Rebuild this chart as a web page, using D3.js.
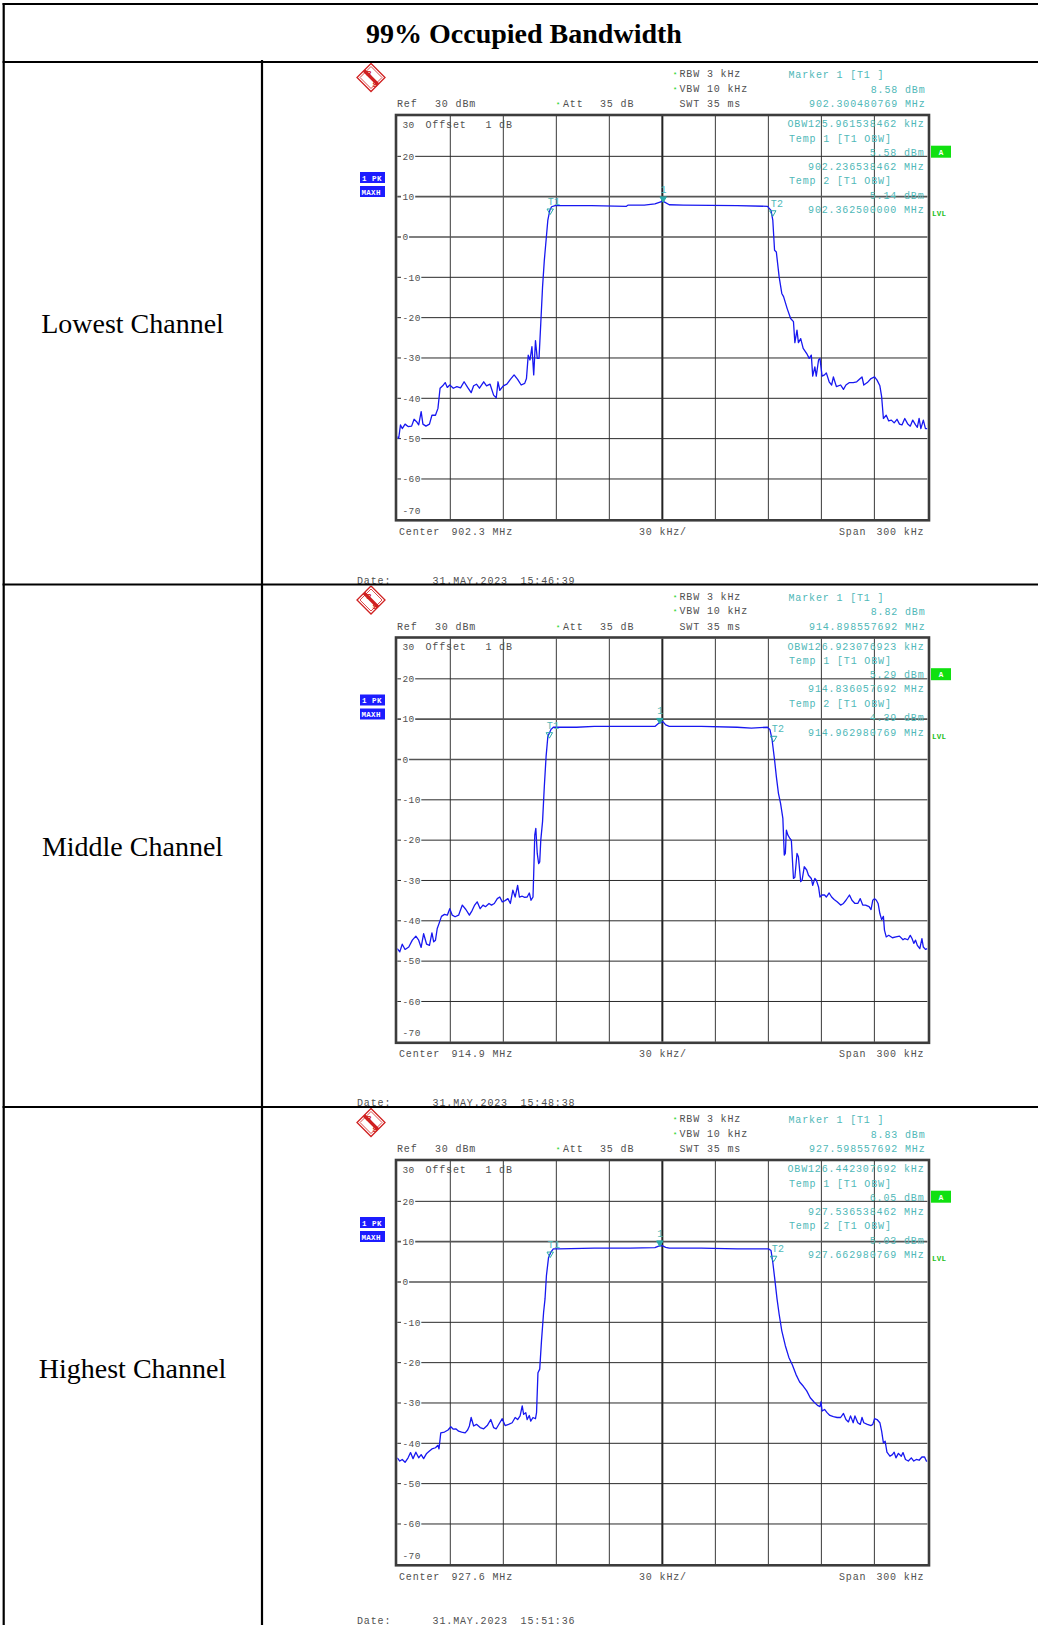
<!DOCTYPE html>
<html>
<head>
<meta charset="utf-8">
<script src="https://cdn.jsdelivr.net/npm/d3@7"></script>
<style>
  body { margin: 0; background: #fff; }
  svg { display: block; }
  text { white-space: pre; }
</style>
</head>
<body>
<svg id="chart" width="1038" height="1625"></svg>
<script>
// values
var channelNames = ["Lowest Channel", "Middle Channel", "Highest Channel"];
var centerMHz = [902.3, 914.9, 927.6];
var marker1Level = ["8.58", "8.82", "8.83"];
var marker1Freq = ["902.300480769", "914.898557692", "927.598557692"];
var obwKHz = ["125.961538462", "126.923076923", "126.442307692"];
var temp1Level = ["5.58", "5.29", "6.05"];
var temp1Freq = ["902.236538462", "914.836057692", "927.536538462"];
var temp2Level = ["5.14", "4.39", "5.03"];
var temp2Freq = ["902.362500000", "914.962980769", "927.662980769"];
var dateTimes = ["15:46:39", "15:48:38", "15:51:36"];
var levelTicks = [20, 10, 0, -10, -20, -30, -40, -50, -60];
var freqTicks = [-120, -90, -60, -30, 0, 30, 60, 90, 120];

// traces: [offset from center in kHz, level in dBm]
var lowTrace = [[-150,-49.5],[-149.2,-49.9],[-148.2,-46.6],[-147.2,-47.5],[-145.6,-46.4],[-143.9,-47.0],[-141.9,-46.9],[-140.5,-45.2],[-139.1,-45.8],[-137.9,-46.6],[-136.5,-43.3],[-135.5,-46.4],[-133.8,-46.9],[-131.8,-46.4],[-130.4,-44.2],[-128.4,-44.2],[-127.0,-42.5],[-125.8,-37.5],[-124.3,-36.9],[-122.9,-36.1],[-121.7,-37.3],[-120.3,-36.7],[-118.3,-37.5],[-116.3,-37.1],[-114.2,-37.4],[-112.2,-35.9],[-110.2,-37.3],[-108.2,-38.6],[-106.8,-36.9],[-105.2,-36.5],[-103.5,-37.5],[-101.1,-35.9],[-99.5,-36.9],[-97.5,-36.5],[-95.5,-39.2],[-94.0,-39.9],[-93.0,-35.9],[-92.0,-38.0],[-90.0,-36.9],[-88.0,-36.5],[-86.0,-35.3],[-83.9,-34.2],[-81.9,-35.3],[-79.9,-36.7],[-77.9,-36.3],[-76.9,-35.1],[-75.9,-29.3],[-74.9,-30.5],[-73.8,-27.2],[-72.8,-34.2],[-71.8,-25.7],[-70.8,-30.1],[-69.8,-30.1],[-68.8,-21.4],[-67.8,-12.4],[-66.8,-5.8],[-65.8,-0.8],[-64.8,4.2],[-63.7,6.6],[-62.7,7.5],[-60.7,7.8],[-40,7.8],[-20.3,7.6],[-19.5,7.9],[-10.2,7.9],[-4.2,8.2],[0.3,8.9],[3.9,8.0],[12.0,7.9],[42.3,7.8],[59.5,7.6],[61.5,6.6],[62.5,4.2],[63.5,-3.3],[64.5,-3.7],[66.1,-9.9],[67.6,-14.0],[68.6,-14.8],[70.6,-17.7],[72.6,-20.2],[74.2,-21.0],[75.0,-26.2],[76.2,-23.1],[77.0,-26.2],[78.3,-25.2],[79.7,-27.6],[81.7,-28.9],[83.1,-30.1],[84.3,-29.3],[85.1,-34.5],[86.3,-32.2],[87.1,-34.5],[88.4,-30.5],[89.2,-30.1],[90.4,-34.5],[91.8,-34.2],[92.8,-33.7],[94.4,-35.9],[95.8,-36.7],[96.8,-34.7],[98.5,-37.1],[100.9,-36.7],[102.5,-37.8],[103.9,-36.7],[105.9,-36.1],[108.0,-36.1],[110.0,-35.9],[112.0,-35.1],[113.0,-34.7],[114.0,-36.7],[116.0,-36.1],[118.1,-35.1],[120.1,-34.7],[121.5,-35.5],[123.1,-36.9],[124.1,-39.6],[125.1,-45.0],[126.7,-44.2],[128.1,-45.6],[129.6,-45.4],[131.2,-46.1],[132.8,-45.2],[134.2,-46.4],[135.6,-46.6],[137.2,-45.0],[138.9,-46.4],[140.3,-46.9],[141.7,-45.4],[143.3,-46.6],[144.3,-47.2],[145.3,-45.0],[146.3,-47.5],[147.7,-45.4],[148.9,-47.5],[150,-47.5]];

var midTrace = [[-150,-46.9],[-148.6,-47.7],[-147.2,-45.8],[-145.6,-47.1],[-143.5,-46.5],[-141.5,-44.8],[-139.5,-43.8],[-137.9,-44.8],[-136.5,-46.6],[-135.1,-43.2],[-133.4,-45.8],[-131.8,-46.1],[-130.4,-43.0],[-129.4,-45.2],[-128.4,-44.8],[-127.4,-41.9],[-126.4,-40.7],[-125.0,-38.9],[-123.3,-38.4],[-121.7,-38.6],[-120.3,-37.0],[-118.9,-38.6],[-117.3,-39.0],[-115.3,-38.6],[-113.2,-36.1],[-111.2,-37.2],[-109.2,-38.6],[-107.6,-37.4],[-106.2,-36.1],[-104.8,-35.3],[-103.1,-37.0],[-101.5,-36.1],[-100.1,-36.5],[-98.1,-35.7],[-96.7,-36.1],[-95.1,-35.7],[-93.4,-34.5],[-92.0,-34.1],[-90.6,-35.3],[-89.0,-35.0],[-87.4,-34.5],[-86.0,-35.7],[-84.6,-32.4],[-83.3,-34.1],[-81.9,-31.2],[-80.9,-34.1],[-79.3,-33.9],[-77.9,-34.2],[-76.5,-34.1],[-75.3,-33.1],[-74.3,-34.9],[-73.2,-34.1],[-72.8,-28.3],[-72.2,-18.7],[-71.6,-17.1],[-70.8,-23.3],[-70.0,-25.8],[-69.4,-25.4],[-68.8,-20.0],[-67.8,-15.4],[-66.8,-6.7],[-65.8,0.7],[-64.8,5.7],[-63.1,7.4],[-61.7,8.0],[-58.7,8.0],[-48.6,8.0],[-38.5,8.2],[-18.3,8.2],[-4.2,8.2],[-2.1,9.0],[0.3,9.4],[1.9,8.6],[3.9,8.2],[22.1,8.2],[42.3,8.0],[50.4,7.8],[59.5,8.0],[60.9,7.4],[62.1,4.9],[63.5,-0.1],[64.5,-4.2],[65.7,-8.4],[66.9,-10.9],[68.2,-14.6],[69.0,-23.7],[69.6,-23.3],[70.2,-17.5],[71.0,-18.7],[72.2,-19.6],[73.0,-20.0],[74.2,-29.5],[75.0,-29.2],[76.2,-23.3],[77.0,-24.1],[78.3,-30.3],[79.1,-29.9],[80.3,-26.6],[81.7,-27.4],[82.7,-28.7],[84.3,-29.5],[85.1,-31.2],[86.3,-29.5],[87.1,-29.9],[88.4,-31.6],[89.2,-34.1],[90.4,-33.6],[91.8,-33.6],[92.8,-34.1],[94.4,-33.1],[95.8,-34.1],[97.2,-34.7],[98.9,-35.3],[100.9,-36.1],[102.5,-35.7],[103.9,-34.9],[105.9,-33.6],[107.3,-34.9],[109.0,-35.7],[110.6,-35.7],[112.0,-34.5],[113.4,-36.1],[115.0,-36.1],[117.0,-36.5],[118.1,-37.2],[119.1,-34.9],[120.1,-34.5],[121.1,-34.9],[122.1,-35.7],[123.1,-38.2],[124.1,-39.7],[125.1,-38.9],[125.7,-42.3],[126.7,-44.0],[128.1,-43.6],[130.2,-44.2],[132.2,-44.0],[134.2,-43.8],[136.2,-44.7],[137.2,-44.4],[138.9,-44.7],[140.3,-43.6],[141.3,-44.4],[142.3,-45.6],[143.3,-44.8],[144.3,-46.1],[145.7,-46.9],[146.9,-44.4],[147.7,-46.5],[148.9,-47.1],[150,-46.9]];

var highTrace = [[-150,-43.6],[-148.6,-44.4],[-147.2,-44.0],[-145.6,-44.7],[-143.9,-43.6],[-142.5,-42.3],[-141.1,-43.8],[-139.5,-42.2],[-137.9,-43.6],[-136.5,-42.8],[-135.1,-43.8],[-133.4,-42.5],[-131.8,-41.9],[-130.4,-41.4],[-128.4,-41.1],[-127.0,-40.5],[-126.4,-41.4],[-125.4,-37.4],[-123.3,-37.2],[-121.3,-36.7],[-119.7,-35.9],[-118.3,-36.5],[-116.9,-36.4],[-115.3,-37.0],[-113.6,-37.2],[-111.6,-37.4],[-110.2,-36.7],[-109.2,-35.7],[-108.2,-33.6],[-106.8,-35.7],[-105.2,-35.3],[-103.1,-36.1],[-101.1,-36.4],[-99.1,-35.6],[-97.1,-34.1],[-95.5,-36.1],[-94.0,-36.4],[-92.0,-34.9],[-90.6,-33.9],[-89.0,-35.6],[-87.0,-35.3],[-85.0,-34.9],[-83.3,-33.6],[-81.9,-34.1],[-80.5,-33.2],[-79.3,-30.7],[-78.5,-32.8],[-77.3,-32.4],[-76.5,-34.1],[-75.3,-33.1],[-74.5,-34.5],[-73.2,-33.6],[-71.8,-33.9],[-71.2,-32.4],[-70.4,-22.5],[-69.4,-21.6],[-68.4,-14.6],[-67.2,-7.5],[-66.4,-4.2],[-65.6,1.6],[-64.4,6.1],[-63.1,7.4],[-61.7,8.2],[-58.7,8.2],[-38.5,8.4],[-18.3,8.4],[-4.2,8.5],[-2.1,8.9],[-0.1,9.0],[1.9,8.6],[3.9,8.4],[22.1,8.4],[42.3,8.2],[60.1,8.2],[61.5,7.8],[62.5,4.9],[63.5,1.2],[64.9,-4.2],[66.1,-8.0],[67.6,-12.1],[69.6,-15.8],[71.6,-18.7],[73.6,-20.6],[75.6,-22.9],[77.7,-24.8],[79.7,-25.8],[81.7,-27.0],[83.7,-28.7],[85.7,-29.7],[87.8,-30.6],[89.2,-30.9],[89.8,-29.7],[90.4,-32.0],[91.8,-31.6],[93.2,-32.4],[94.8,-33.1],[96.8,-33.4],[98.9,-33.6],[100.9,-33.6],[102.5,-32.6],[103.9,-34.1],[105.3,-34.7],[106.5,-33.2],[108.0,-34.9],[109.0,-33.2],[110.6,-34.9],[112.0,-35.3],[113.0,-33.6],[114.0,-34.9],[116.0,-35.3],[118.1,-35.6],[119.1,-35.3],[120.1,-33.9],[121.5,-34.1],[123.1,-34.9],[124.1,-37.0],[125.1,-39.9],[126.1,-39.5],[127.1,-42.2],[128.8,-43.2],[130.2,-42.8],[131.2,-42.2],[132.2,-43.6],[133.6,-42.5],[135.2,-43.2],[136.2,-42.3],[137.6,-44.0],[139.2,-44.4],[140.9,-43.6],[142.3,-44.4],[143.7,-44.0],[145.3,-44.2],[146.9,-43.4],[148.4,-43.4],[149.4,-44.4],[150,-44.4]];

var traces = [lowTrace, midTrace, highTrace];

var svg = d3.select("#chart");
var defs = svg.append("defs");
var mono = "'Liberation Mono','DejaVu Sans Mono',monospace";
var serif = "'Liberation Serif','DejaVu Serif',serif";
var gray = "#505050", teal = "#4fb8b8", green = "#16d016";
var rowTops = [62, 584.5, 1107];

function txt(g, x, y, s, opt) {
  opt = opt || {};
  return g.append("text")
    .attr("x", x).attr("y", y)
    .attr("font-family", opt.family || mono)
    .attr("font-size", opt.size || 10)
    .attr("letter-spacing", opt.ls === undefined ? 0.85 : opt.ls)
    .attr("fill", opt.fill || gray)
    .attr("font-weight", opt.weight || "normal")
    .attr("text-anchor", opt.anchor || "start")
    .text(s);
}

function drawPanel(i) {
  var top = rowTops[i];
  var bottom = i < 2 ? rowTops[i + 1] : 1625;
  defs.append("clipPath").attr("id", "cell" + i)
    .append("rect").attr("x", 263).attr("y", top + 1).attr("width", 775).attr("height", bottom - top - 1);
  defs.append("clipPath").attr("id", "plot" + i)
    .append("rect").attr("x", 397.3).attr("y", top + 54).attr("width", 530.1).attr("height", 403.5);

  var g = svg.append("g").attr("clip-path", "url(#cell" + i + ")");
  var x = d3.scaleLinear().domain([-150, 150]).range([397.3, 927.4]);
  var y = d3.scaleLinear().domain([30, -70]).range([top + 54, top + 457.3]);

  // R&S logo
  var lg = g.append("g").attr("transform", "translate(371," + (top + 15.5) + ")");
  lg.append("path").attr("d", "M0,-14L14,0L0,14L-14,0Z").attr("fill", "none").attr("stroke", "#d02020").attr("stroke-width", 1.3);
  lg.append("path").attr("d", "M0,-11L11,0L0,11L-11,0Z").attr("fill", "none").attr("stroke", "#d02020").attr("stroke-width", 0.8);
  lg.append("path").attr("d", "M-7,-7L7,7").attr("stroke", "#d02020").attr("stroke-width", 3.2);
  txt(lg, -4.5, -1.5, "R", {size: 8, fill: "#d02020", ls: 0, weight: "bold"});
  txt(lg, 1.5, 9, "S", {size: 8, fill: "#d02020", ls: 0, weight: "bold"});

  // header
  txt(g, 673, top + 15, "*", {size: 7, fill: green, ls: 0});
  txt(g, 679.5, top + 15, "RBW 3 kHz");
  txt(g, 673, top + 29.5, "*", {size: 7, fill: green, ls: 0});
  txt(g, 679.5, top + 29.5, "VBW 10 kHz");
  txt(g, 397, top + 45, "Ref");
  txt(g, 435, top + 45, "30 dBm");
  txt(g, 556, top + 45, "*", {size: 7, fill: green, ls: 0});
  txt(g, 563, top + 45, "Att");
  txt(g, 600, top + 45, "35 dB");
  txt(g, 679.5, top + 45, "SWT 35 ms");
  txt(g, 788.5, top + 16, "Marker 1 [T1 ]", {fill: teal});
  txt(g, 925.5, top + 30.5, marker1Level[i] + " dBm", {fill: teal, anchor: "end"});
  txt(g, 925.5, top + 45, marker1Freq[i] + " MHz", {fill: teal, anchor: "end"});

  // trace mode boxes
  g.append("rect").attr("x", 360).attr("y", top + 110).attr("width", 25).attr("height", 11).attr("fill", "#1c1cff");
  g.append("rect").attr("x", 360).attr("y", top + 124).attr("width", 25).attr("height", 11).attr("fill", "#1c1cff");
  txt(g, 362, top + 118.5, "1 PK", {size: 7.5, fill: "#fff", ls: 0.5, weight: "bold"});
  txt(g, 361.5, top + 132.5, "MAXH", {size: 7.5, fill: "#fff", ls: 0.3, weight: "bold"});
  g.append("rect").attr("x", 931).attr("y", top + 83.7).attr("width", 20).attr("height", 12).attr("fill", "#10e010");
  txt(g, 941, top + 92.5, "A", {size: 7.5, fill: "#fff", ls: 0, weight: "bold", anchor: "middle"});
  txt(g, 932, top + 154, "LVL", {size: 7.5, fill: "#22c022", ls: 0.3, weight: "bold"});

  // grid
  g.selectAll(".vg").data(freqTicks).enter().append("line")
    .attr("x1", function (d) { return x(d); }).attr("x2", function (d) { return x(d); })
    .attr("y1", top + 54).attr("y2", top + 457.3)
    .attr("stroke", function (d) { return d === 0 ? "#222" : "#3a3a3a"; })
    .attr("stroke-width", function (d) { return d === 0 ? 2 : 1; });
  g.selectAll(".hg").data(levelTicks).enter().append("line")
    .attr("x1", 397.3).attr("x2", 927.4)
    .attr("y1", function (d) { return y(d); }).attr("y2", function (d) { return y(d); })
    .attr("stroke", function (d) { return d === 10 || d === 0 ? "#555" : "#2a2a2a"; })
    .attr("stroke-width", function (d) { return d === 10 || d === 0 ? 1.6 : 1; });

  // level labels on the grid
  levelTicks.forEach(function (v) {
    var s = String(v);
    g.append("rect").attr("x", 401).attr("y", y(v) - 5).attr("width", s.length * 6.1 + 2).attr("height", 10).attr("fill", "#fff");
    txt(g, 402.5, y(v) + 3.3, s, {size: 9.5, ls: 0.4});
  });
  txt(g, 402.5, y(30) + 11.5, "30", {size: 9.5, ls: 0.4});
  txt(g, 402.5, y(-70) - 5.5, "-70", {size: 9.5, ls: 0.4});
  txt(g, 425.5, top + 65.5, "Offset");
  txt(g, 485.4, top + 65.5, "1 dB");

  // frame
  g.append("rect").attr("x", 396).attr("y", top + 53).attr("width", 533).attr("height", 405.3)
    .attr("fill", "none").attr("stroke", "#3c3c3c").attr("stroke-width", 2.6);

  // trace
  var line = d3.line().x(function (d) { return x(d[0]); }).y(function (d) { return y(d[1]); });
  g.append("g").attr("clip-path", "url(#plot" + i + ")")
    .append("path").datum(traces[i]).attr("d", line)
    .attr("fill", "none").attr("stroke", "#1818f0").attr("stroke-width", 1.3).attr("stroke-linejoin", "round");

  // markers
  var c = centerMHz[i];
  var marks = [
    {f: (+temp1Freq[i] - c) * 1000, l: +temp1Level[i], name: "T1", fill: "none", dx: -2.5, anchor: "start"},
    {f: (+marker1Freq[i] - c) * 1000, l: +marker1Level[i], name: "1", fill: "#2aa8a8", dx: 0.5, anchor: "middle"},
    {f: (+temp2Freq[i] - c) * 1000, l: +temp2Level[i], name: "T2", fill: "none", dx: -2, anchor: "start"}
  ];
  marks.forEach(function (m) {
    var mx = x(m.f), my = y(m.l);
    g.append("path").attr("d", "M" + (mx - 3.2) + "," + (my - 5.5) + "L" + (mx + 3.2) + "," + (my - 5.5) + "L" + mx + "," + my + "Z")
      .attr("fill", m.fill).attr("stroke", "#2aa8a8").attr("stroke-width", 1);
    txt(g, mx + m.dx, my - 9.5, m.name, {fill: teal, ls: 0.3, anchor: m.anchor});
  });

  // marker readout block
  txt(g, 924.5, top + 65, "OBW" + obwKHz[i] + " kHz", {fill: teal, anchor: "end"});
  txt(g, 789, top + 79.8, "Temp 1 [T1 OBW]", {fill: teal});
  txt(g, 924.5, top + 93.8, temp1Level[i] + " dBm", {fill: teal, anchor: "end"});
  txt(g, 924.5, top + 107.7, temp1Freq[i] + " MHz", {fill: teal, anchor: "end"});
  txt(g, 789, top + 122.3, "Temp 2 [T1 OBW]", {fill: teal});
  txt(g, 924.5, top + 136.5, temp2Level[i] + " dBm", {fill: teal, anchor: "end"});
  txt(g, 924.5, top + 151.3, temp2Freq[i] + " MHz", {fill: teal, anchor: "end"});

  // footer
  txt(g, 399, top + 472.5, "Center");
  txt(g, 451.4, top + 472.5, centerMHz[i].toFixed(1) + " MHz");
  txt(g, 639, top + 472.5, "30 kHz/");
  txt(g, 839, top + 472.5, "Span");
  txt(g, 876.4, top + 472.5, "300 kHz");
  var dy = Math.min(top + 521.5, 1623.5);
  txt(g, 357, dy, "Date:");
  txt(g, 432.6, dy, "31.MAY.2023");
  txt(g, 520.6, dy, dateTimes[i]);
}

[0, 1, 2].forEach(drawPanel);

// table
var tb = svg.append("g").attr("stroke", "#000").attr("stroke-width", 2.2);
tb.append("line").attr("x1", 2.6).attr("x2", 1038).attr("y1", 4).attr("y2", 4);
tb.append("line").attr("x1", 3.7).attr("x2", 3.7).attr("y1", 3).attr("y2", 1625);
tb.append("line").attr("x1", 262).attr("x2", 262).attr("y1", 60).attr("y2", 1625);
[62].concat(rowTops.slice(1)).forEach(function (ry) {
  tb.append("line").attr("x1", 2.6).attr("x2", 1038).attr("y1", ry).attr("y2", ry);
});

svg.append("text").attr("x", 524).attr("y", 43)
  .attr("font-family", serif).attr("font-size", 28).attr("font-weight", "bold")
  .attr("text-anchor", "middle").attr("fill", "#000")
  .text("99% Occupied Bandwidth");

channelNames.forEach(function (name, i) {
  svg.append("text").attr("x", 132.5).attr("y", rowTops[i] + 271)
    .attr("font-family", serif).attr("font-size", 28)
    .attr("text-anchor", "middle").attr("fill", "#000")
    .text(name);
});
</script>
</body>
</html>
